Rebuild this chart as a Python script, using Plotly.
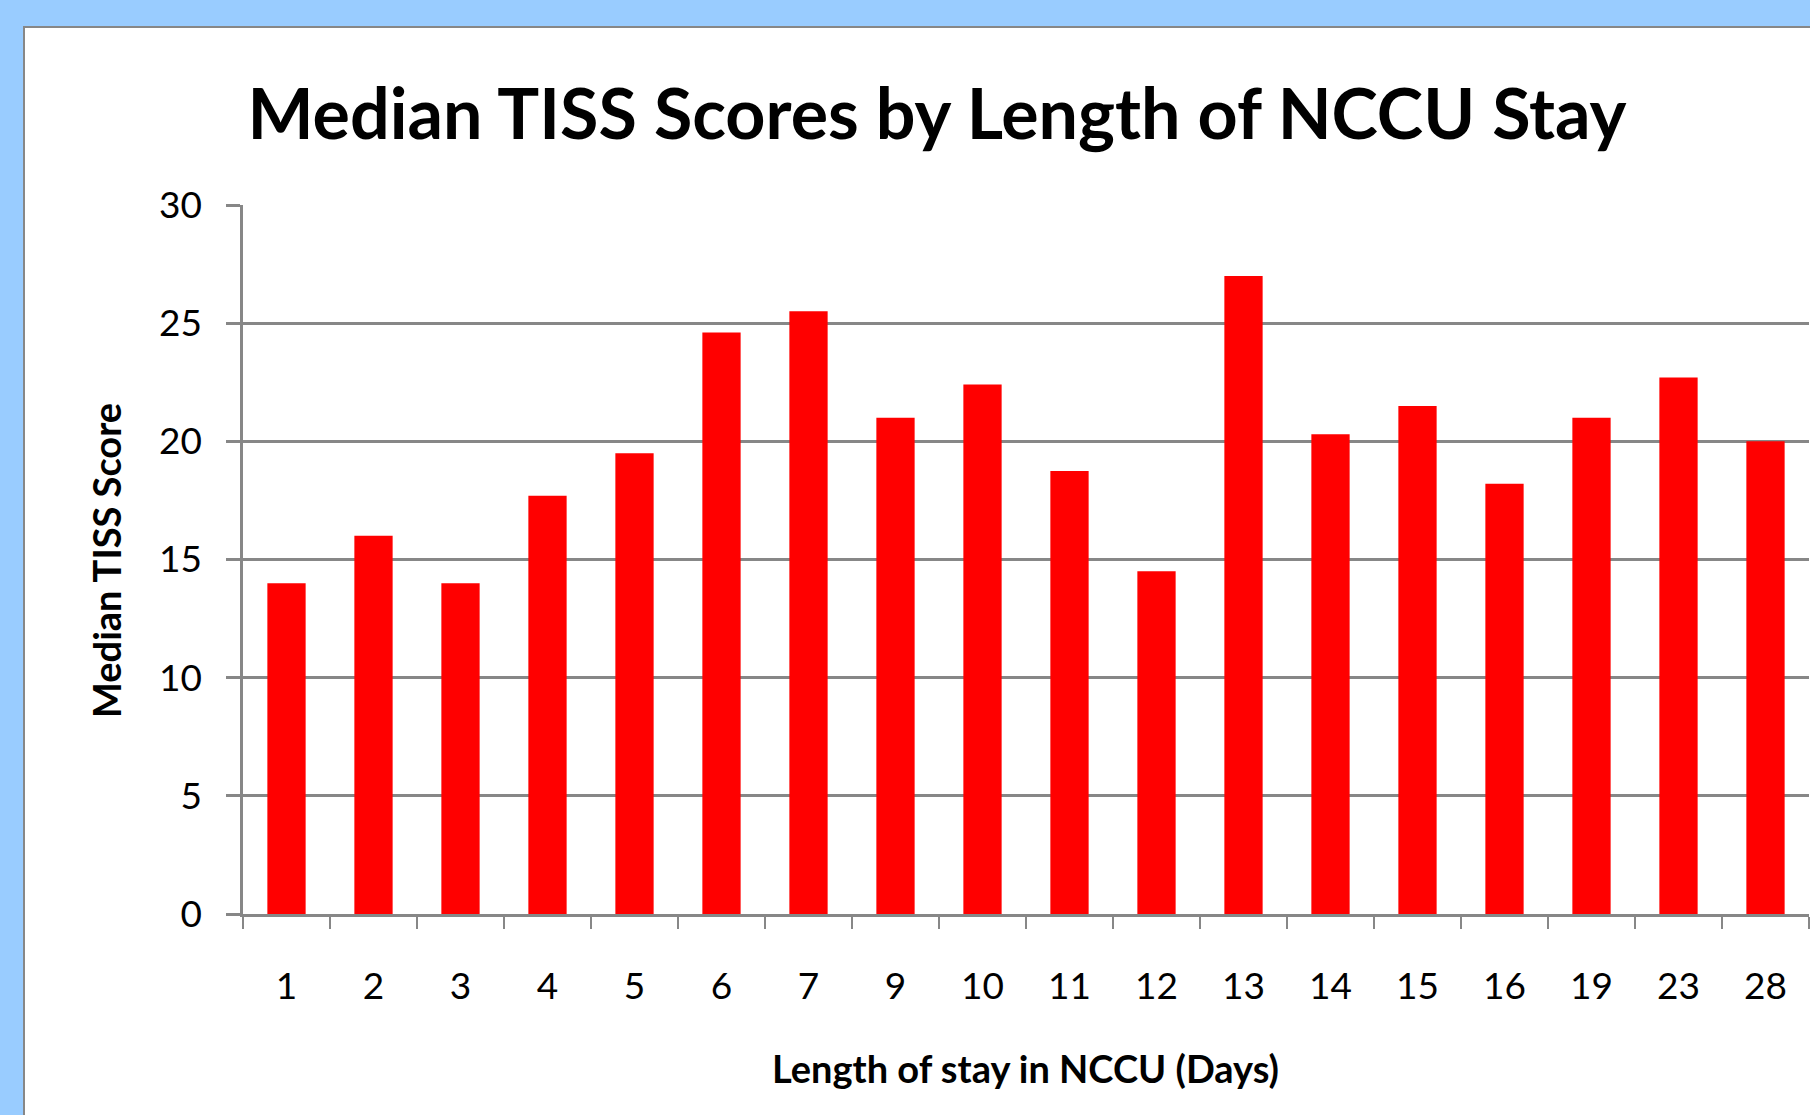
import plotly.graph_objects as go

# ── Data ──────────────────────────────────────────────────────────────────────
days = ["1", "2", "3", "4", "5", "6", "7", "9", "10", "11",
        "12", "13", "14", "15", "16", "19", "23", "28"]
median_tiss = [14, 16, 14, 17.7, 19.5, 24.6, 25.5, 21, 22.4, 18.75,
               14.5, 27, 20.3, 21.5, 18.2, 21, 22.7, 20]
y_ticks = [0, 5, 10, 15, 20, 25, 30]

# ── Geometry (pixels) ─────────────────────────────────────────────────────────
W, H = 1810, 1115
L, R, T, B = 243, 1, 205, 201
PW, PH = W - L - R, H - T - B


def px_x(x):
    return (x - L) / PW


def px_y(y):
    return (H - B - y) / PH


GRAY = "#878787"
BLUE = "#99ccff"
FONT = "Lato, 'Open Sans', sans-serif"

fig = go.Figure(
    go.Bar(x=days, y=median_tiss, marker=dict(color="#ff0000", line_width=0))
)

fig.update_layout(
    width=W, height=H,
    margin=dict(l=L, r=R, t=T, b=B),
    paper_bgcolor=BLUE,
    plot_bgcolor="white",
    bargap=0.56,
    showlegend=False,
    font=dict(family=FONT, color="black"),
    title=dict(
        text="<b>Median TISS Scores by Length of NCCU Stay</b>",
        font=dict(size=70, family=FONT, color="black"),
        x=937 / W, xanchor="center",
        y=1 - 114 / H, yanchor="middle",
    ),
    shapes=[
        dict(
            type="rect", xref="paper", yref="paper", layer="below",
            x0=px_x(24), x1=px_x(1830), y0=px_y(1140), y1=px_y(27),
            fillcolor="white", line=dict(color=GRAY, width=2),
        )
    ],
    annotations=[
        dict(
            text="<b>Median TISS Score</b>", xref="paper", yref="paper",
            x=px_x(106), y=px_y(561), textangle=-90, showarrow=False,
            xanchor="center", yanchor="middle",
            font=dict(size=38, family=FONT, color="black"),
        ),
        dict(
            text="<b>Length of stay in NCCU (Days)</b>", xref="paper", yref="paper",
            x=px_x(1025), y=px_y(1068), showarrow=False,
            xanchor="center", yanchor="middle",
            font=dict(size=38, family=FONT, color="black"),
        ),
    ],
)

fig.update_xaxes(
    type="category",
    range=[-0.5, len(days) - 0.5],
    showline=True, linecolor=GRAY, linewidth=2.5,
    ticks="outside", tickson="boundaries", ticklen=12,
    tickcolor=GRAY, tickwidth=2,
    tickfont=dict(size=37, color="black"),
    ticklabelstandoff=38,
    showgrid=False,
)
fig.update_yaxes(
    range=[0, 30], tickvals=y_ticks,
    showline=True, linecolor=GRAY, linewidth=2.5,
    showgrid=True, gridcolor=GRAY, gridwidth=2.5,
    zeroline=False,
    ticks="outside", ticklen=14, tickcolor=GRAY, tickwidth=2.5,
    tickfont=dict(size=37, color="black"),
    ticklabelstandoff=17,
)

# drop the browser's default 8px body margin so the figure sits at (0, 0)
fig.write_html(
    "out.html",
    config={"displayModeBar": False},
    post_script=f"document.body.style.margin='0';"
                f"document.body.style.background='{BLUE}';",
)
